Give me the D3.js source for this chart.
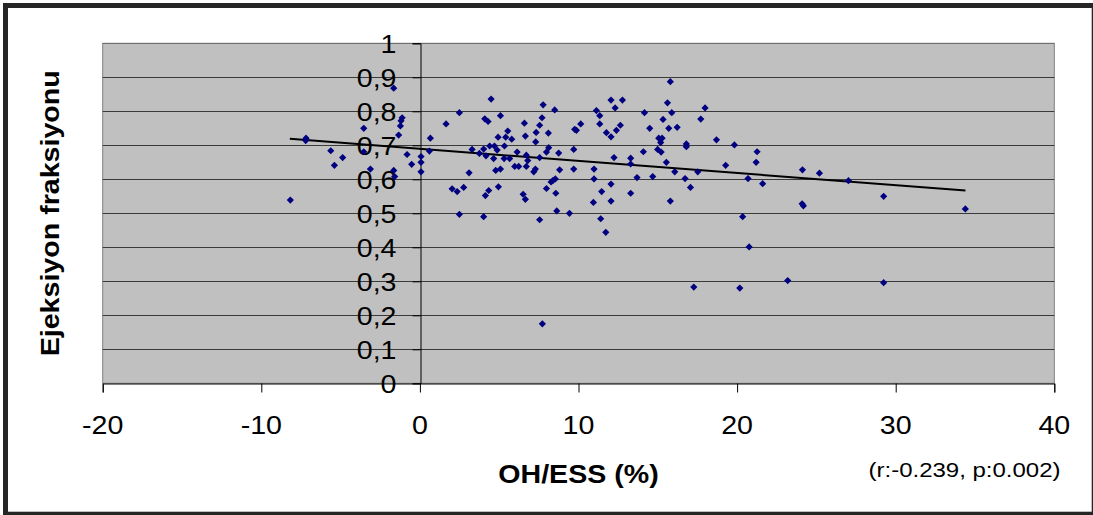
<!DOCTYPE html>
<html>
<head>
<meta charset="utf-8">
<script src="https://cdn.jsdelivr.net/npm/d3@7"></script>
<style>
  html, body { margin: 0; padding: 0; background: #ffffff; }
  svg { display: block; }
  text { font-family: "Liberation Sans", Arial, sans-serif; fill: #000; }
</style>
</head>
<body>
<svg id="chart" width="1093" height="515"></svg>
<script>
// ---- Data ----
const xValues = [
  -1.65, -1.12, -1.19, -1.23, -3.54, -1.34, -7.18, -7.2, 0.66, 1.65, 2.49,
  -5.62, -4.87, -5.39, -3.54, -0.81, -0.52, 0.07, 0.07, 0.07, 0.60, -3.12,
  -1.65, -1.59, -8.17, 2.03, 2.35, 2.49,
  4.49, 4.09, 4.30, 5.08, 7.77, 8.50, 7.70, 6.59, 7.55, 5.54, 4.93, 5.41,
  5.79, 7.33, 8.10, 6.65, 7.30, 3.29, 3.75, 4.02, 4.40, 4.70, 4.87, 5.33,
  4.17, 4.65, 5.31, 5.66, 6.13, 6.71, 6.80, 7.55, 7.98, 8.12, 8.75, 9.70,
  5.98, 6.23, 6.71, 4.78, 5.08, 7.18, 7.28, 8.81, 9.70, 3.10, 8.27, 8.40,
  8.54, 2.76, 4.13, 4.34, 4.95, 6.51, 6.65, 7.98, 8.57, 4.02, 7.55, 8.63,
  9.43, 11.13, 11.34, 12.05, 12.77, 12.31, 11.34, 10.14, 9.76, 9.87, 12.64,
  12.39, 11.76, 12.05, 12.24, 13.29, 13.29, 13.69, 10.98, 10.98, 11.46,
  12.05, 10.94, 12.05, 13.29, 11.40, 11.72,
  15.79, 15.61, 14.16, 15.88, 17.98, 15.33, 17.71, 14.49, 15.69, 16.22,
  15.06, 15.27, 15.18, 16.80, 16.80, 18.70, 19.83, 21.26, 21.20, 14.99,
  15.21, 14.09, 15.54, 16.07, 17.52, 19.28, 14.68, 16.72, 17.06, 20.69,
  21.61, 24.12, 25.19, 15.79, 24.10, 24.18, 20.35,
  27.02, 29.24, 34.39, 29.24, 20.76, 23.19, 20.17, 17.27, 7.72
];
const yValues = [
  0.868, 0.781, 0.772, 0.757, 0.750, 0.730, 0.721, 0.714, 0.721, 0.763, 0.796,
  0.684, 0.664, 0.641, 0.681, 0.673, 0.644, 0.667, 0.650, 0.622, 0.683, 0.630,
  0.626, 0.608, 0.539, 0.572, 0.564, 0.497,
  0.836, 0.778, 0.770, 0.787, 0.819, 0.804, 0.781, 0.765, 0.759, 0.742, 0.724, 0.724,
  0.718, 0.738, 0.736, 0.727, 0.710, 0.688, 0.676, 0.689, 0.698, 0.698, 0.686, 0.698,
  0.669, 0.661, 0.661, 0.661, 0.680, 0.671, 0.655, 0.664, 0.680, 0.693, 0.677, 0.688,
  0.638, 0.638, 0.638, 0.626, 0.630, 0.622, 0.630, 0.628, 0.630, 0.619, 0.592, 0.597,
  0.601, 0.576, 0.552, 0.567, 0.578, 0.556, 0.541, 0.573, 0.559, 0.490, 0.481, 0.507,
  0.500, 0.802, 0.787, 0.833, 0.833, 0.810, 0.763, 0.763, 0.747, 0.744, 0.759,
  0.744, 0.737, 0.725, 0.664, 0.662, 0.645, 0.605, 0.630, 0.601, 0.564,
  0.586, 0.532, 0.536, 0.559, 0.484, 0.444,
  0.887, 0.825, 0.796, 0.796, 0.810, 0.776, 0.777, 0.750, 0.750, 0.753,
  0.721, 0.721, 0.708, 0.704, 0.696, 0.716, 0.701, 0.681, 0.650, 0.688,
  0.680, 0.681, 0.650, 0.622, 0.622, 0.641, 0.608, 0.602, 0.576, 0.602,
  0.587, 0.628, 0.618, 0.536, 0.528, 0.522, 0.490,
  0.596, 0.550, 0.513, 0.296, 0.401, 0.302, 0.280, 0.283, 0.175
];
// Linear trend line end points
const trendX = [-8.2, 34.4];
const trendY = [0.719, 0.567];

const xTicks = [-20, -10, 0, 10, 20, 30, 40];
const yTicks = [0, 0.1, 0.2, 0.3, 0.4, 0.5, 0.6, 0.7, 0.8, 0.9, 1];
const yTickLabels = ["0", "0,1", "0,2", "0,3", "0,4", "0,5", "0,6", "0,7", "0,8", "0,9", "1"];
const xTitle = "OH/ESS (%)";
const yTitle = "Ejeksiyon fraksiyonu";
const note = "(r:-0.239, p:0.002)";

// ---- Layout ----
const svg = d3.select("#chart");
const plot = { left: 102.7, right: 1054.3, top: 43.3, bottom: 383.3 };

const x = d3.scaleLinear().domain([-20, 40]).range([plot.left, plot.right]);
const y = d3.scaleLinear().domain([0, 1]).range([plot.bottom, plot.top]);

// Outer frame
svg.append("rect")
  .attr("x", 5.5).attr("y", 5.5)
  .attr("width", 1088.7).attr("height", 508.7)
  .attr("fill", "#ffffff")
  .attr("stroke", "#262626").attr("stroke-width", 5);

// Plot area
svg.append("rect")
  .attr("x", plot.left).attr("y", plot.top)
  .attr("width", plot.right - plot.left).attr("height", plot.bottom - plot.top)
  .attr("fill", "#c0c0c0")
  .attr("stroke", "#808080").attr("stroke-width", 1);

// Gridlines
svg.append("g")
  .selectAll("line")
  .data(yTicks.filter(d => d > 0))
  .join("line")
  .attr("x1", plot.left).attr("x2", plot.right)
  .attr("y1", d => Math.round(y(d)) + 0.5).attr("y2", d => Math.round(y(d)) + 0.5)
  .attr("stroke", d => d === 1 ? "#6e6e6e" : "#3a3a3a")
  .attr("stroke-width", 1);

// X axis (at y = 0)
const xAxis = d3.axisBottom(x).tickValues(xTicks).tickSize(9).tickPadding(0).tickFormat(() => "");
const gx = svg.append("g")
  .attr("transform", `translate(0,${Math.round(y(0)) + 0.5})`)
  .call(xAxis);
gx.select(".domain").attr("stroke", "#000").attr("stroke-width", 1);
gx.selectAll(".tick line").attr("stroke", "#000");

svg.append("g").selectAll("text")
  .data(xTicks)
  .join("text")
  .attr("transform", d => `translate(${x(d)},434) scale(1.1,1)`)
  .attr("text-anchor", "middle")
  .attr("font-size", 26)
  .text(d => d);

// Y axis (crosses at x = 0)
const yAxis = d3.axisLeft(y).tickValues(yTicks).tickSize(8).tickFormat(() => "");
const gy = svg.append("g")
  .attr("transform", `translate(${Math.round(x(0)) + 0.5},0)`)
  .call(yAxis);
gy.select(".domain").attr("stroke", "#000").attr("stroke-width", 1);
gy.selectAll(".tick line").attr("stroke", "#000");

svg.append("g").selectAll("text")
  .data(yTicks)
  .join("text")
  .attr("transform", d => `translate(396.5,${y(d) + 9.3}) scale(1.1,1)`)
  .attr("text-anchor", "end")
  .attr("font-size", 26)
  .text((d, i) => yTickLabels[i]);

// Trend line
svg.append("line")
  .attr("x1", x(trendX[0])).attr("y1", y(trendY[0]))
  .attr("x2", x(trendX[1])).attr("y2", y(trendY[1]))
  .attr("stroke", "#000").attr("stroke-width", 2);

// Points (diamonds)
const pts = xValues.map((v, i) => [v, yValues[i]]);
const r = 3.6;
svg.append("g")
  .selectAll("path")
  .data(pts)
  .join("path")
  .attr("transform", d => `translate(${x(d[0])},${y(d[1])})`)
  .attr("d", `M0,${-r}L${r},0L0,${r}L${-r},0Z`)
  .attr("fill", "#000080");

// Axis titles
svg.append("text")
  .attr("transform", `translate(${(plot.left + plot.right) / 2},483) scale(1.1,1)`)
  .attr("text-anchor", "middle")
  .attr("font-size", 26)
  .attr("font-weight", "bold")
  .text(xTitle);

svg.append("text")
  .attr("transform", `translate(59,${(plot.top + plot.bottom) / 2}) rotate(-90) scale(1.1,1)`)
  .attr("text-anchor", "middle")
  .attr("font-size", 26)
  .attr("font-weight", "bold")
  .text(yTitle);

// Statistic note
svg.append("text")
  .attr("transform", `translate(964.5,476.5) scale(1.2,1)`)
  .attr("text-anchor", "middle")
  .attr("font-size", 20)
  .text(note);
</script>
</body>
</html>
